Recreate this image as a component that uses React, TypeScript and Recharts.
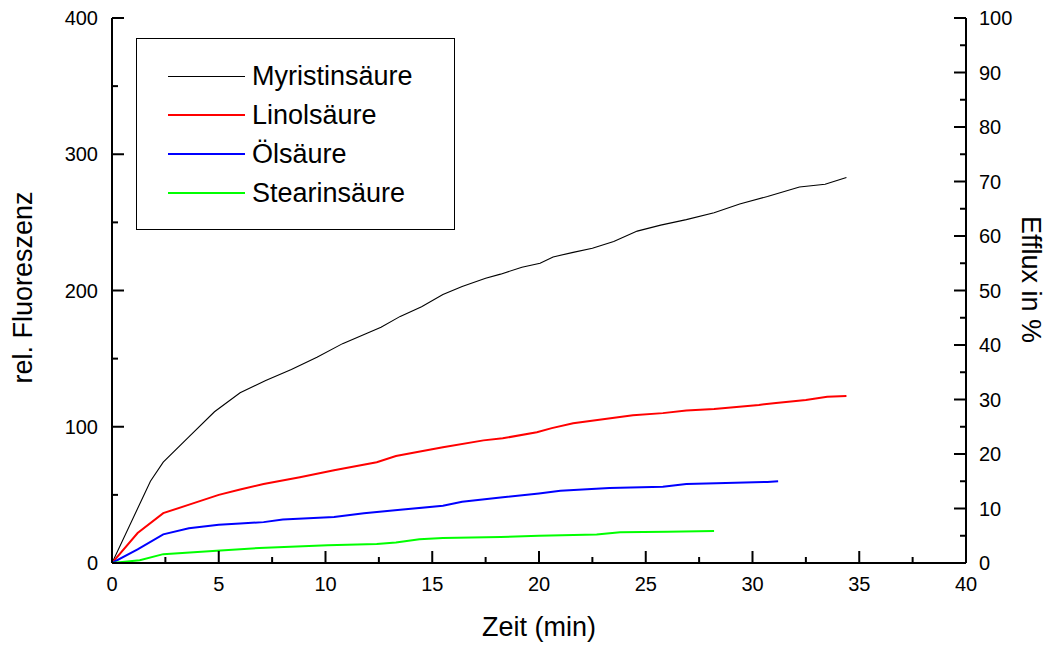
import React from 'react';
import { LineChart, Line, XAxis, YAxis, Legend } from 'recharts';

// ---- data ----
const myristinT = [0, 1.8, 2.4, 3.6, 4.8, 6.0, 7.2, 8.4, 9.6, 10.8, 12.0, 12.6, 13.5, 14.5, 15.5, 16.4, 17.5, 18.2, 19.2, 20.05, 20.66, 21.6, 22.5, 23.5, 24.6, 25.7, 26.9, 28.2, 29.4, 30.7, 32.2, 33.4, 34.4];
const myristinV = [0, 60, 74, 92.5, 111, 125, 134, 142, 151, 161, 169, 173, 181, 188, 197, 203, 209, 212, 217, 220, 224.6, 228, 231, 236, 243.6, 248, 252, 257, 263.5, 269, 276, 278, 283];

const linolT = [0, 1.2, 2.4, 3.65, 5.0, 6.0, 7.1, 8.8, 10.4, 12.4, 13.3, 14.3, 15.5, 17.4, 18.3, 19.9, 20.6, 21.6, 24.4, 25.8, 26.9, 28.2, 30.3, 31.1, 32.5, 33.5, 34.4];
const linolV = [0, 22, 36.6, 43, 50, 54, 58, 63, 68, 74, 78.5, 81.5, 85, 90, 91.5, 96, 99, 102.5, 108.5, 110, 112, 113, 116, 117.5, 119.6, 122, 122.6];

const oelT = [0, 1.2, 2.4, 3.6, 5.0, 6.0, 7.1, 8.0, 10.4, 11.8, 13.5, 15.5, 16.4, 18.2, 20.0, 21.0, 23.3, 25.8, 26.9, 28.3, 30.7, 31.2];
const oelV = [0, 10, 21, 25.5, 28, 29, 30, 32, 33.8, 36.5, 39, 42, 45, 48, 51, 53, 55, 56, 58, 58.5, 59.5, 60];

const stearinT = [0, 1.3, 2.4, 4.9, 6.9, 10.1, 12.4, 13.3, 14.4, 15.5, 18.2, 20.0, 22.7, 23.8, 26.0, 28.2];
const stearinV = [0, 2, 6.5, 9, 11, 13, 14, 15, 17.5, 18.3, 19, 20, 21, 22.5, 23, 23.5];

const seriesNames = ['Myristinsäure', 'Linolsäure', 'Ölsäure', 'Stearinsäure'];
const seriesColors = ['#000000', '#ff0000', '#0000ff', '#00ff00'];
const seriesWidths = [1.1, 2, 2, 2];

const xTicks = [0, 2.5, 5, 7.5, 10, 12.5, 15, 17.5, 20, 22.5, 25, 27.5, 30, 32.5, 35, 37.5, 40];
const leftTicks = [0, 50, 100, 150, 200, 250, 300, 350, 400];
const rightTicks = [0, 5, 10, 15, 20, 25, 30, 35, 40, 45, 50, 55, 60, 65, 70, 75, 80, 85, 90, 95, 100];

const xTitle = 'Zeit (min)';
const leftTitle = 'rel. Fluoreszenz';
const rightTitle = 'Efflux in %';

const toRows = (ts: number[], vs: number[]) => ts.map((t, i) => ({ t, v: vs[i] }));
const seriesData = [
  toRows(myristinT, myristinV),
  toRows(linolT, linolV),
  toRows(oelT, oelV),
  toRows(stearinT, stearinV),
];

const FONT = '"Liberation Sans", Arial, sans-serif';

const BottomTick = (props: any) => {
  const { x, y, payload } = props;
  const major = payload.value % 5 === 0;
  return (
    <g>
      <line x1={x} y1={y} x2={x} y2={y - (major ? 12 : 6)} stroke="#000" strokeWidth={2} />
      {major && (
        <text x={x} y={y + 28} textAnchor="middle" fontSize={20} fontFamily={FONT} fill="#000">
          {payload.value}
        </text>
      )}
    </g>
  );
};

const LeftTick = (props: any) => {
  const { x, y, payload } = props;
  const major = payload.value % 100 === 0;
  return (
    <g>
      <line x1={x} y1={y} x2={x + (major ? 12 : 6)} y2={y} stroke="#000" strokeWidth={2} />
      {major && (
        <text x={x - 14} y={y + 7} textAnchor="end" fontSize={20} fontFamily={FONT} fill="#000">
          {payload.value}
        </text>
      )}
    </g>
  );
};

const RightTick = (props: any) => {
  const { x, y, payload } = props;
  const major = payload.value % 10 === 0;
  return (
    <g>
      <line x1={x} y1={y} x2={x - (major ? 12 : 6)} y2={y} stroke="#000" strokeWidth={2} />
      {major && (
        <text x={x + 13} y={y + 7} textAnchor="start" fontSize={20} fontFamily={FONT} fill="#000">
          {payload.value}
        </text>
      )}
    </g>
  );
};

const XTitle = (props: any) => {
  const { viewBox } = props;
  const cx = viewBox.x + viewBox.width / 2;
  return (
    <text x={cx} y={636} textAnchor="middle" fontSize={27} fontFamily={FONT} fill="#000">
      {xTitle}
    </text>
  );
};

const LeftTitle = (props: any) => {
  const { viewBox } = props;
  const cx = 32;
  const cy = viewBox.y + viewBox.height / 2 - 3;
  return (
    <text x={0} y={0} transform={`translate(${cx},${cy}) rotate(-90)`} textAnchor="middle" fontSize={27} fontFamily={FONT} fill="#000">
      {leftTitle}
    </text>
  );
};

const RightTitle = (props: any) => {
  const { viewBox } = props;
  const cx = 1022;
  const cy = viewBox.y + viewBox.height / 2 - 11;
  return (
    <text x={0} y={0} transform={`translate(${cx},${cy}) rotate(90)`} textAnchor="middle" fontSize={27} fontFamily={FONT} fill="#000">
      {rightTitle}
    </text>
  );
};

const LegendBox = () => (
  <div
    style={{
      position: 'relative',
      width: 319,
      height: 192,
      border: '1.5px solid #000',
      boxSizing: 'border-box',
      background: '#fff',
      fontFamily: FONT,
    }}
  >
    {seriesNames.map((name, i) => (
      <div key={name}>
        <div
          style={{
            position: 'absolute',
            left: 31,
            top: 37 + i * 39 - (i === 0 ? 0.5 : 1),
            width: 77,
            height: i === 0 ? 1 : 2,
            background: seriesColors[i],
          }}
        />
        <div
          style={{
            position: 'absolute',
            left: 115,
            top: 37 + i * 39 - 16,
            fontSize: 27,
            lineHeight: '32px',
            color: '#000',
            whiteSpace: 'nowrap',
          }}
        >
          {name}
        </div>
      </div>
    ))}
  </div>
);

export default function App() {
  return (
    <div style={{ position: 'absolute', left: 0, top: 0, width: 1052, height: 646, background: '#fff' }}>
      <LineChart width={1052} height={646} margin={{ top: 18, right: 26, bottom: 43, left: 52 }}>
        <XAxis
          xAxisId="bottom"
          type="number"
          dataKey="t"
          domain={[0, 40]}
          ticks={xTicks}
          interval={0}
          height={40}
          tickSize={0}
          tickMargin={0}
          tickLine={false}
          tick={<BottomTick />}
          axisLine={{ stroke: '#000', strokeWidth: 2 }}
          allowDataOverflow
          label={<XTitle />}
        />
        <XAxis
          xAxisId="top"
          orientation="top"
          type="number"
          dataKey="t"
          domain={[0, 40]}
          ticks={xTicks}
          interval={0}
          height={0}
          tickSize={0}
          tick={false}
          tickLine={false}
          allowDataOverflow
          axisLine={{ stroke: '#000', strokeWidth: 2 }}
        />
        <YAxis
          yAxisId="left"
          type="number"
          domain={[0, 400]}
          ticks={leftTicks}
          interval={0}
          width={60}
          tickSize={0}
          tickMargin={0}
          tickLine={false}
          tick={<LeftTick />}
          allowDataOverflow
          axisLine={{ stroke: '#000', strokeWidth: 2 }}
          label={<LeftTitle />}
        />
        <YAxis
          yAxisId="right"
          orientation="right"
          type="number"
          domain={[0, 100]}
          ticks={rightTicks}
          interval={0}
          width={60}
          tickSize={0}
          tickMargin={0}
          tickLine={false}
          tick={<RightTick />}
          allowDataOverflow
          axisLine={{ stroke: '#000', strokeWidth: 2 }}
          label={<RightTitle />}
        />
        <Legend
          layout="vertical"
          align="center"
          verticalAlign="middle"
          content={<LegendBox />}
          wrapperStyle={{ position: 'absolute', left: 136, top: 38, bottom: 'auto', right: 'auto', width: 319, height: 192 }}
        />
        {seriesData.map((d, i) => (
          <Line
            key={seriesNames[i]}
            xAxisId="bottom"
            yAxisId="left"
            data={d}
            dataKey="v"
            name={seriesNames[i]}
            type="linear"
            stroke={seriesColors[i]}
            strokeWidth={seriesWidths[i]}
            dot={false}
            activeDot={false}
            isAnimationActive={false}
          />
        ))}
      </LineChart>
    </div>
  );
}
